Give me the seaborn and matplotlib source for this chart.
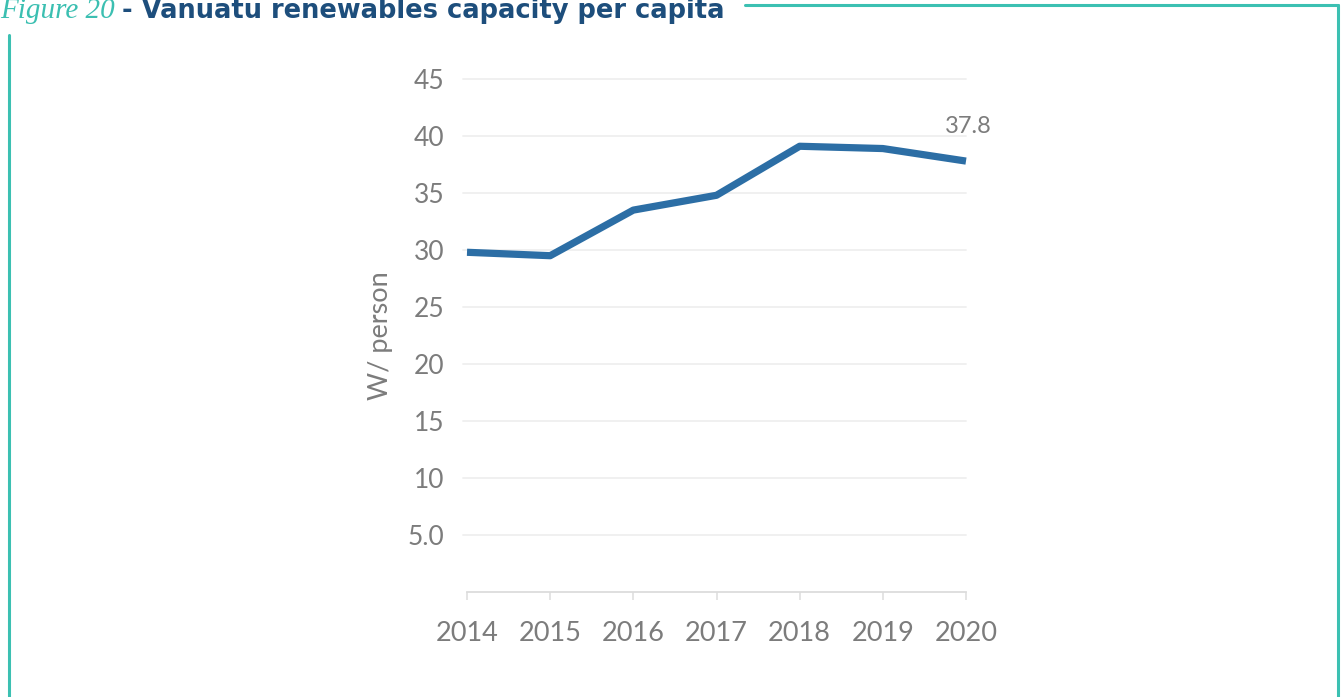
import matplotlib
matplotlib.use("Agg")
import matplotlib.pyplot as plt
from matplotlib.lines import Line2D
import pandas as pd
import seaborn as sns

years = [2014, 2015, 2016, 2017, 2018, 2019, 2020]
capacity_w_per_person = [29.8, 29.5, 33.5, 34.8, 39.1, 38.9, 37.8]
y_ticks = [5, 10, 15, 20, 25, 30, 35, 40, 45]
y_tick_labels = ["5.0", "10", "15", "20", "25", "30", "35", "40", "45"]
last_label = "37.8"

sns.set_theme(style="white")
plt.rcParams["font.family"] = ["Lato", "DejaVu Sans"]

df = pd.DataFrame({"year": years, "value": capacity_w_per_person})

W, H = 1341, 697
fig = plt.figure(figsize=(W / 100, H / 100), dpi=100)
fig.patch.set_facecolor("white")
ax = fig.add_axes([467 / W, 1 - 592 / H, (966 - 467) / W, (592 - 79) / H])

grey = "#7c7c7c"
line_blue = "#2c6ea5"

sns.lineplot(data=df, x="year", y="value", ax=ax, color=line_blue,
             linewidth=5.2, solid_capstyle="butt", solid_joinstyle="round",
             zorder=3, clip_on=False)

ax.set_xlim(years[0], years[-1])
ax.set_ylim(0, 45)
ax.set_yticks(y_ticks)
ax.set_yticklabels(y_tick_labels)
ax.set_xticks(years)
ax.set_xticklabels([str(y) for y in years])

for t in y_ticks:
    ax.axhline(t, color="#efefef", linewidth=1.3, zorder=1, clip_on=False,
               xmin=-0.008, xmax=1.0)

for s in ["top", "right", "left"]:
    ax.spines[s].set_visible(False)
ax.spines["bottom"].set_color("#dcdcdc")
ax.spines["bottom"].set_linewidth(1.3)

ax.tick_params(axis="y", length=0, pad=16, labelsize=19, labelcolor=grey)
ax.tick_params(axis="x", length=6, width=1.1, color="#dcdcdc", direction="out",
               pad=15, labelsize=19.5, labelcolor=grey, bottom=True)

ax.set_xlabel("")
ax.set_ylabel("W/ person", fontsize=19.5, color=grey, labelpad=11)

ax.annotate(last_label, xy=(years[-1], capacity_w_per_person[-1]),
            xytext=(2, 17), textcoords="offset points", ha="center",
            va="bottom", fontsize=17, color=grey)

# Title, partially cut at the top edge
title_y = 1 - 18 / H
t1 = fig.text(0.0, title_y, "Figure 20", fontsize=21, color="#3bbfb1",
              family=["Liberation Serif", "DejaVu Serif"], style="italic",
              va="baseline", ha="left")
fig.canvas.draw()
bb = t1.get_window_extent()
fig.text((bb.x1 + 7) / W, title_y, "- Vanuatu renewables capacity per capita",
         fontsize=18.5, color="#1d4e7c", fontweight="bold",
         family=["DejaVu Sans"], va="baseline", ha="left")

# Teal frame around the figure panel
teal = "#3cc0b2"
fig.add_artist(Line2D([745 / W, 1338 / W], [1 - 5 / H, 1 - 5 / H],
                      transform=fig.transFigure, color=teal, linewidth=2.2))
fig.add_artist(Line2D([1338 / W, 1338 / W], [1 - 5 / H, 0],
                      transform=fig.transFigure, color=teal, linewidth=2.2))
fig.add_artist(Line2D([8.5 / W, 8.5 / W], [1 - 35 / H, 0],
                      transform=fig.transFigure, color=teal, linewidth=2.2))

fig.savefig("out.png", dpi=100)
